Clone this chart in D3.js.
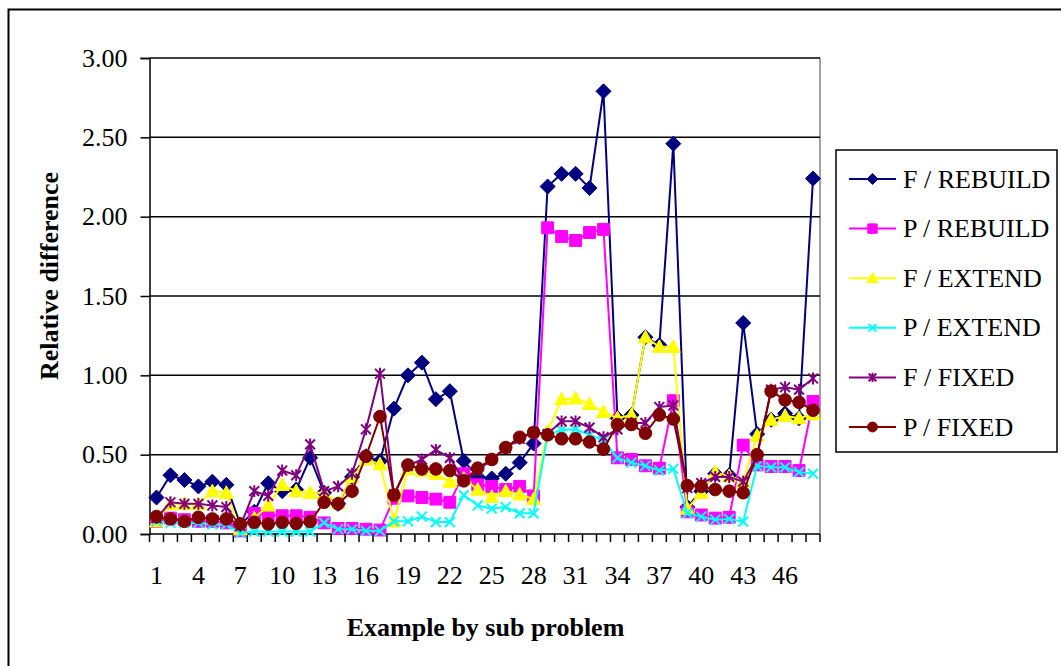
<!DOCTYPE html>
<html lang="en">
<head>
    <meta charset="UTF-8">
    <title>Relative difference</title>
    <style>
        body { margin: 0; background: #fff; }
        svg { display: block; font-family: "Liberation Serif", "Times New Roman", serif; }
        .tickLabel { font-size: 26px; fill: #000; }
        .axisTitle { font-size: 26px; font-weight: bold; fill: #000; }
        .legend text { font-size: 26px; fill: #000; }
    </style>
    <script src="https://d3js.org/d3.v7.min.js"></script>
</head>
<body>
<div class="container"></div>
<script>
    // data
    const categories = [1, 2, 3, 4, 5, 6, 7, 8, 9, 10, 11, 12, 13, 14, 15, 16, 17, 18, 19, 20, 21, 22, 23, 24,
        25, 26, 27, 28, 29, 30, 31, 32, 33, 34, 35, 36, 37, 38, 39, 40, 41, 42, 43, 44, 45, 46, 47, 48];
    const xTickLabels = [1, 4, 7, 10, 13, 16, 19, 22, 25, 28, 31, 34, 37, 40, 43, 46];
    const yTickValues = [0, 0.5, 1, 1.5, 2, 2.5, 3];
    const seriesNames = ["F / REBUILD", "P / REBUILD", "F / EXTEND", "P / EXTEND", "F / FIXED", "P / FIXED"];

    const fRebuild = [0.23, 0.37, 0.34, 0.30, 0.33, 0.31, 0.06, 0.14, 0.32, 0.27, 0.28, 0.48,
        0.26, 0.19, 0.36, 0.49, 0.46, 0.79, 1.00, 1.08, 0.85, 0.90, 0.46, 0.36,
        0.35, 0.38, 0.45, 0.57, 2.19, 2.27, 2.27, 2.18, 2.79, 0.73, 0.75, 1.24,
        1.19, 2.46, 0.17, 0.27, 0.38, 0.37, 1.33, 0.63, 0.72, 0.76, 0.73, 2.24];
    const pRebuild = [0.08, 0.10, 0.09, 0.08, 0.08, 0.07, 0.02, 0.13, 0.12, 0.115, 0.115, 0.105,
        0.07, 0.035, 0.035, 0.03, 0.025, 0.225, 0.24, 0.23, 0.22, 0.20, 0.38, 0.31,
        0.30, 0.28, 0.30, 0.24, 1.93, 1.875, 1.85, 1.90, 1.92, 0.48, 0.47, 0.43,
        0.415, 0.84, 0.14, 0.12, 0.10, 0.105, 0.56, 0.435, 0.425, 0.425, 0.40, 0.835];
    const fExtend = [0.08, 0.19, 0.19, 0.19, 0.27, 0.26, 0.03, 0.10, 0.18, 0.31, 0.27, 0.26,
        0.26, 0.195, 0.36, 0.47, 0.44, 0.08, 0.41, 0.40, 0.38, 0.33, 0.35, 0.28,
        0.235, 0.27, 0.25, 0.22, 0.645, 0.85, 0.855, 0.82, 0.77, 0.73, 0.75, 1.24,
        1.18, 1.18, 0.16, 0.26, 0.39, 0.365, 0.33, 0.62, 0.72, 0.745, 0.73, 0.755];
    const pExtend = [0.08, 0.07, 0.07, 0.07, 0.06, 0.06, 0.005, 0.015, 0.015, 0.015, 0.015, 0.015,
        0.07, 0.03, 0.03, 0.02, 0.02, 0.08, 0.08, 0.11, 0.075, 0.075, 0.245, 0.18,
        0.16, 0.17, 0.13, 0.13, 0.625, 0.655, 0.66, 0.625, 0.59, 0.48, 0.45, 0.43,
        0.40, 0.41, 0.13, 0.11, 0.09, 0.095, 0.078, 0.43, 0.42, 0.42, 0.39, 0.38];
    const fFixed = [0.10, 0.20, 0.19, 0.19, 0.18, 0.17, 0.05, 0.27, 0.24, 0.40, 0.37, 0.565,
        0.27, 0.30, 0.38, 0.66, 1.01, 0.25, 0.43, 0.47, 0.53, 0.48, 0.34, 0.40,
        0.47, 0.54, 0.60, 0.64, 0.63, 0.71, 0.71, 0.67, 0.61, 0.66, 0.70, 0.70,
        0.80, 0.81, 0.29, 0.32, 0.36, 0.36, 0.33, 0.49, 0.91, 0.925, 0.91, 0.98];
    const pFixed = [0.11, 0.095, 0.08, 0.105, 0.095, 0.095, 0.063, 0.074, 0.063, 0.074, 0.067, 0.078,
        0.20, 0.19, 0.27, 0.49, 0.74, 0.245, 0.435, 0.41, 0.41, 0.40, 0.335, 0.415,
        0.47, 0.545, 0.61, 0.64, 0.625, 0.60, 0.60, 0.58, 0.535, 0.69, 0.69, 0.635,
        0.75, 0.725, 0.305, 0.30, 0.28, 0.27, 0.26, 0.50, 0.90, 0.845, 0.83, 0.78];

    const seriesValues = [fRebuild, pRebuild, fExtend, pExtend, fFixed, pFixed];
    const colors = ["#000080", "#ff00ff", "#ffff00", "#00ffff", "#800080", "#800000"];
    const markers = ["diamond", "square", "triangle", "x", "star", "circle"];

    const width = 1061, height = 666;
    const plot = {left: 149.5, right: 820, top: 58, bottom: 534};

    const svg = d3.select(".container").append("svg")
        .attr("width", width)
        .attr("height", height);

    // outer chart frame (runs off the right and bottom edges)
    svg.append("rect")
        .attr("x", 8.5).attr("y", 9.5)
        .attr("width", 1200).attr("height", 800)
        .attr("fill", "#fff")
        .attr("stroke", "#000")
        .attr("stroke-width", 2);

    const x = d3.scaleBand()
        .domain(categories)
        .range([plot.left, plot.right]);
    const cx = c => x(c) + x.bandwidth() / 2;

    const y = d3.scaleLinear()
        .domain([0, 3])
        .range([plot.bottom, plot.top]);

    // plot area right border (grey)
    svg.append("line")
        .attr("x1", plot.right).attr("x2", plot.right)
        .attr("y1", plot.top).attr("y2", plot.bottom)
        .attr("stroke", "#808080")
        .attr("stroke-width", 1.5);

    // gridlines
    svg.append("g")
        .selectAll("line")
        .data(yTickValues.filter(v => v > 0))
        .join("line")
        .attr("x1", plot.left).attr("x2", plot.right)
        .attr("y1", d => y(d)).attr("y2", d => y(d))
        .attr("stroke", "#000")
        .attr("stroke-width", 1.5);

    // y axis
    const yAxis = svg.append("g")
        .attr("transform", `translate(${plot.left},0)`)
        .call(d3.axisLeft(y).tickValues(yTickValues).tickSize(9).tickPadding(13).tickFormat(d3.format(".2f")));
    yAxis.select(".domain").attr("stroke-width", 1.5);
    yAxis.selectAll(".tick line").attr("stroke-width", 1.5);
    yAxis.selectAll(".tick text")
        .attr("class", "tickLabel");
    yAxis.attr("font-size", null).attr("font-family", null);

    // x axis: ticks at category boundaries, labels every third category
    const xAxis = svg.append("g");
    xAxis.append("line")
        .attr("x1", plot.left).attr("x2", plot.right)
        .attr("y1", plot.bottom).attr("y2", plot.bottom)
        .attr("stroke", "#000")
        .attr("stroke-width", 1.5);
    xAxis.selectAll("line.tk")
        .data(categories.map(c => x(c)).concat([x.range()[1]]))
        .join("line")
        .attr("class", "tk")
        .attr("x1", d => d).attr("x2", d => d)
        .attr("y1", plot.bottom).attr("y2", plot.bottom + 8)
        .attr("stroke", "#000")
        .attr("stroke-width", 1.5);
    xAxis.selectAll("text")
        .data(xTickLabels)
        .join("text")
        .attr("class", "tickLabel")
        .attr("x", d => cx(d))
        .attr("y", 584)
        .attr("text-anchor", "middle")
        .text(d => d);

    // marker shapes
    function markerPath(type, r) {
        const p = d3.path();
        if (type === "diamond") {
            p.moveTo(0, -r); p.lineTo(r, 0); p.lineTo(0, r); p.lineTo(-r, 0); p.closePath();
        } else if (type === "square") {
            p.rect(-r * 0.85, -r * 0.85, r * 1.7, r * 1.7);
        } else if (type === "triangle") {
            p.moveTo(0, -r); p.lineTo(r, r * 0.8); p.lineTo(-r, r * 0.8); p.closePath();
        } else if (type === "circle") {
            p.moveTo(r * 0.9, 0); p.arc(0, 0, r * 0.9, 0, 2 * Math.PI);
        } else if (type === "x") {
            const a = r * 0.7;
            p.moveTo(-a, -a); p.lineTo(a, a); p.moveTo(a, -a); p.lineTo(-a, a);
        } else if (type === "star") {
            const a = r * 0.7;
            p.moveTo(-a, -a); p.lineTo(a, a); p.moveTo(a, -a); p.lineTo(-a, a);
            p.moveTo(0, -r * 0.85); p.lineTo(0, r * 0.85);
        }
        return p.toString();
    }
    const isStroked = t => t === "x" || t === "star";

    const line = d3.line()
        .x((d, i) => cx(categories[i]))
        .y(d => y(d));

    const chart = svg.append("g").attr("class", "chart");
    seriesValues.forEach((vals, s) => {
        const g = chart.append("g");
        g.append("path")
            .datum(vals)
            .attr("d", line)
            .attr("fill", "none")
            .attr("stroke", colors[s])
            .attr("stroke-width", 2);
        g.selectAll("path.mk")
            .data(vals)
            .join("path")
            .attr("class", "mk")
            .attr("transform", (d, i) => `translate(${cx(categories[i])},${y(d)})`)
            .attr("d", markerPath(markers[s], markers[s] === "diamond" ? 7.5 : 7))
            .attr("fill", isStroked(markers[s]) ? "none" : colors[s])
            .attr("stroke", colors[s])
            .attr("stroke-width", isStroked(markers[s]) ? 2 : 1);
    });

    // axis titles
    svg.append("text")
        .attr("class", "axisTitle")
        .attr("transform", "translate(58,276) rotate(-90)")
        .attr("text-anchor", "middle")
        .text("Relative difference");
    svg.append("text")
        .attr("class", "axisTitle")
        .attr("x", 485.5)
        .attr("y", 636)
        .attr("text-anchor", "middle")
        .text("Example by sub problem");

    // legend
    const legend = svg.append("g")
        .attr("class", "legend")
        .attr("transform", "translate(836,150)");
    legend.append("rect")
        .attr("width", 221).attr("height", 302)
        .attr("fill", "#fff")
        .attr("stroke", "#000")
        .attr("stroke-width", 1.5);
    seriesNames.forEach((name, s) => {
        const row = legend.append("g")
            .attr("transform", `translate(0,${29 + s * 49.6})`);
        row.append("line")
            .attr("x1", 13).attr("x2", 60)
            .attr("stroke", colors[s])
            .attr("stroke-width", 2);
        row.append("path")
            .attr("transform", "translate(36.5,0)")
            .attr("d", markerPath(markers[s], 5.5))
            .attr("fill", isStroked(markers[s]) ? "none" : colors[s])
            .attr("stroke", colors[s])
            .attr("stroke-width", isStroked(markers[s]) ? 2 : 1);
        row.append("text")
            .attr("x", 67)
            .attr("y", 8.6)
            .text(name);
    });
</script>
</body>
</html>
